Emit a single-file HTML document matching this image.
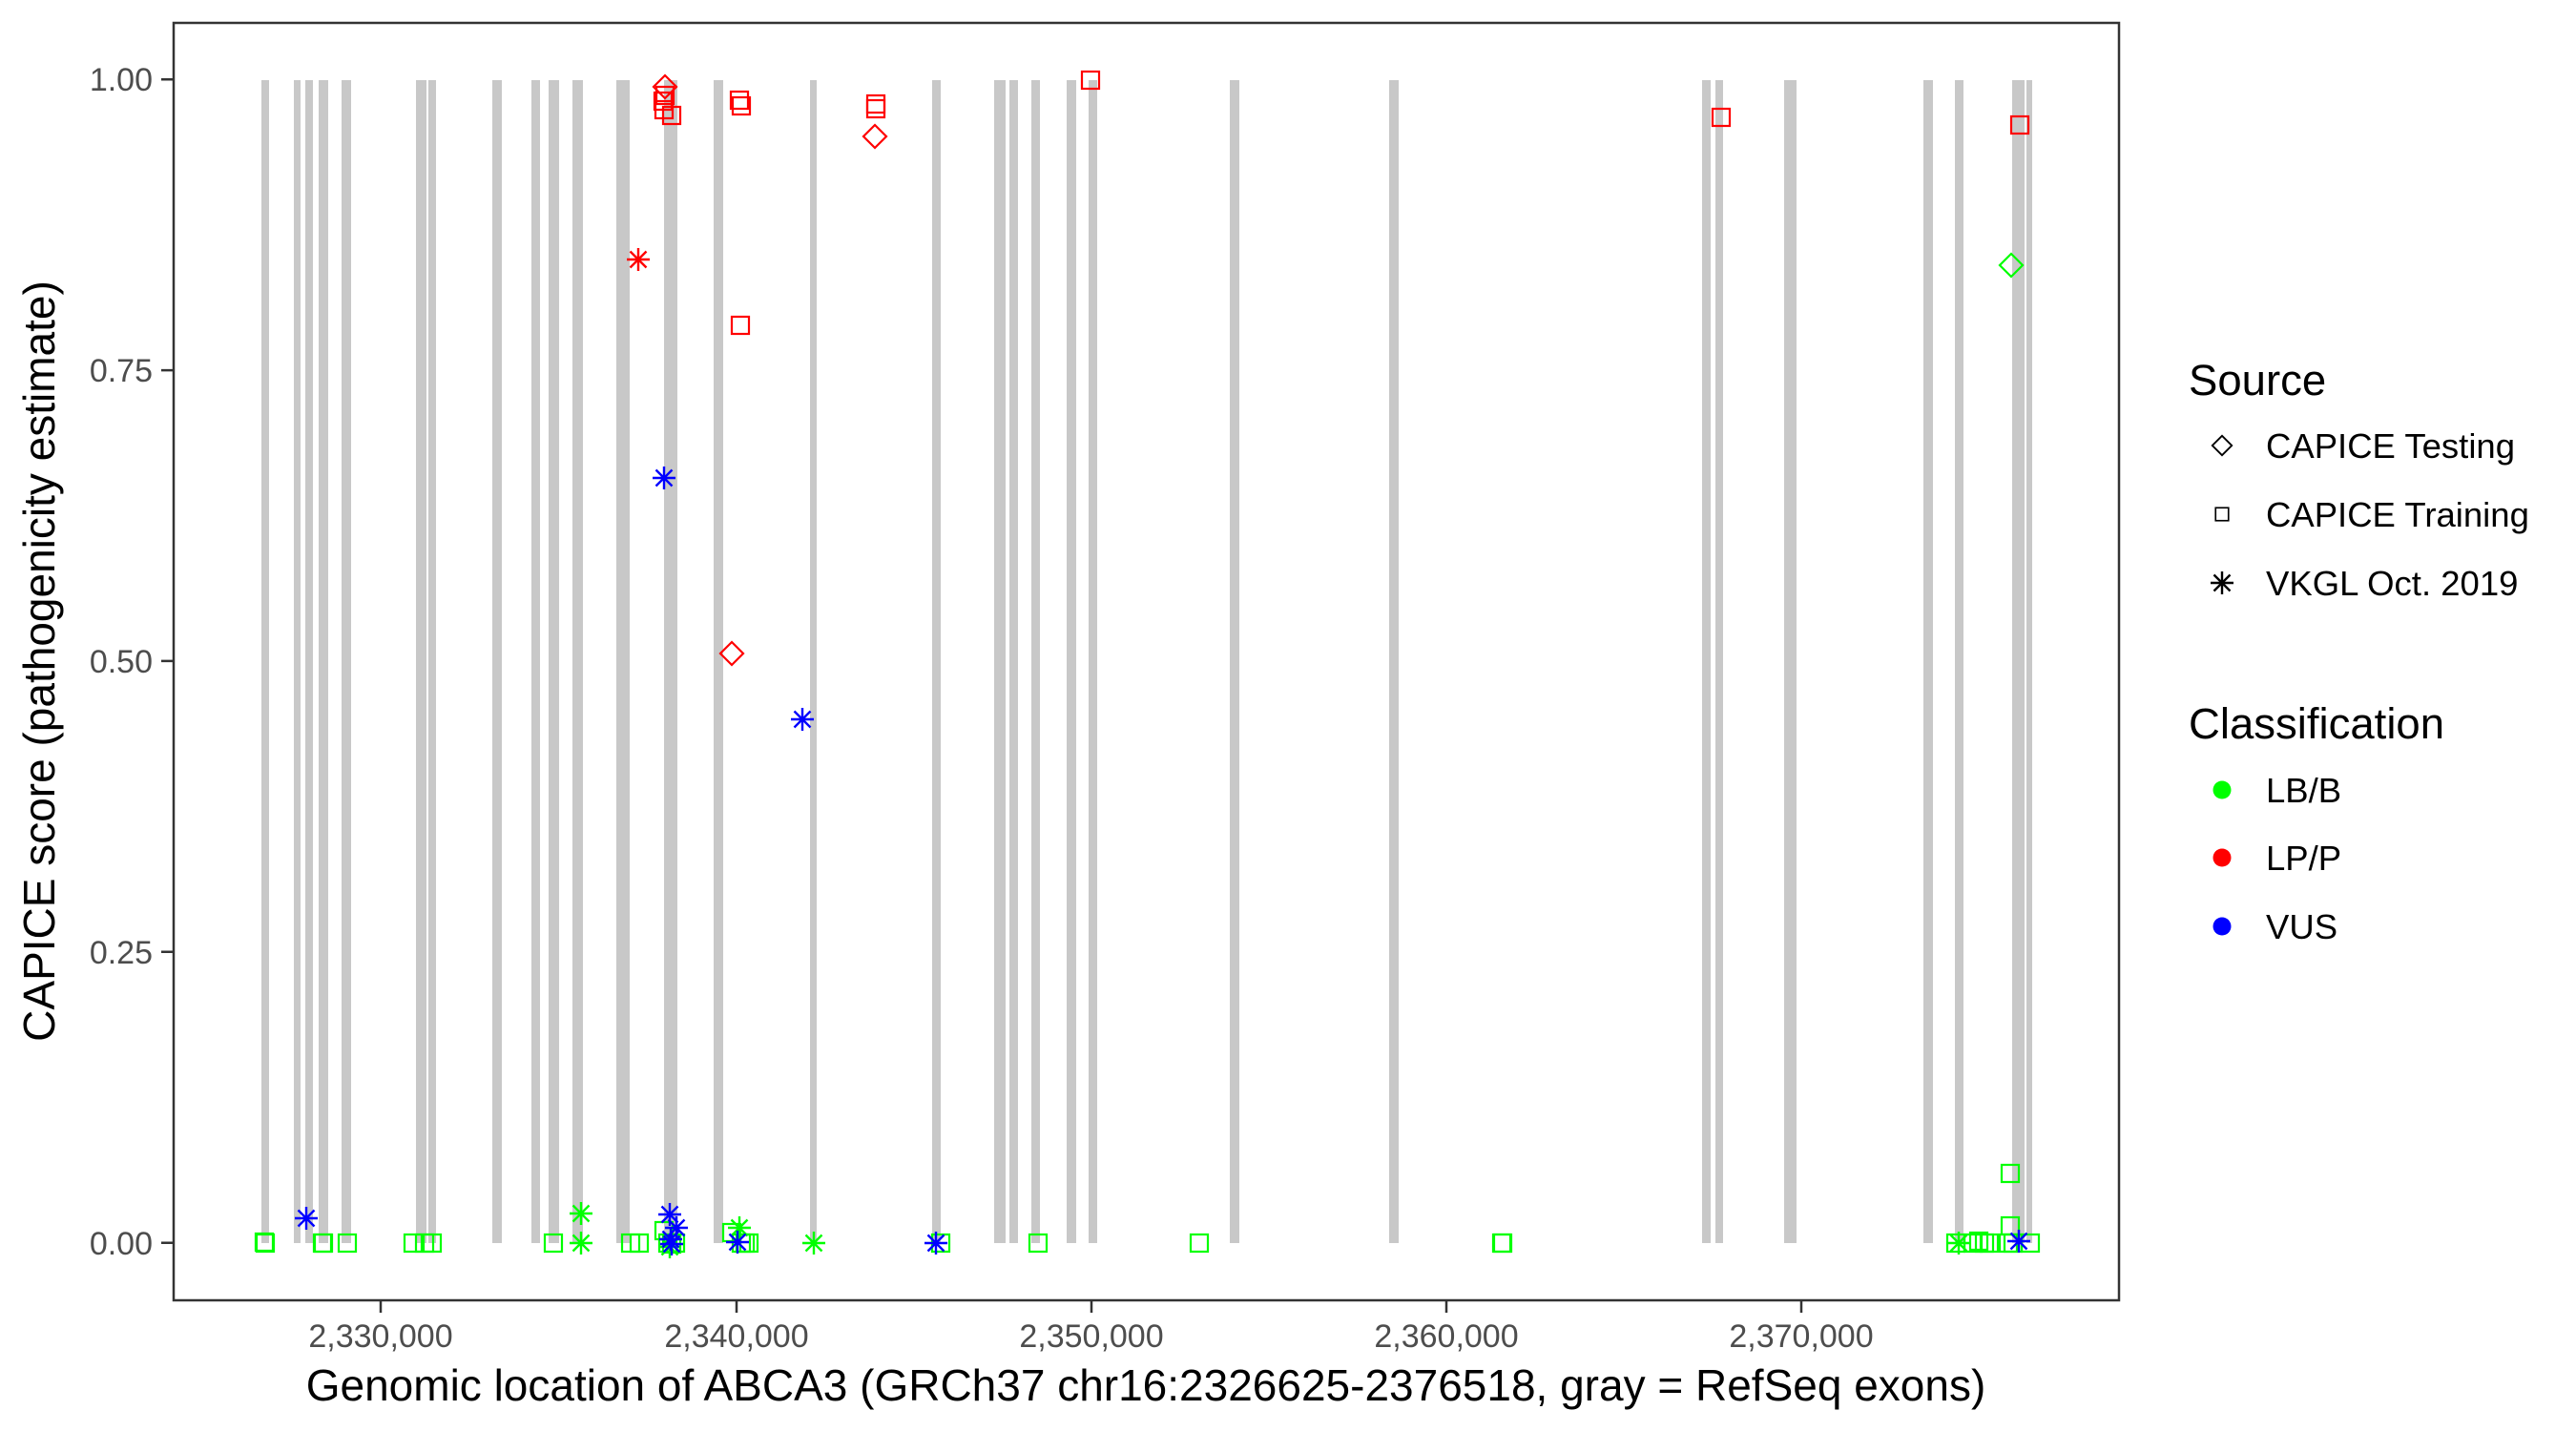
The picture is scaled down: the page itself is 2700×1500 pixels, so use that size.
<!DOCTYPE html>
<html><head><meta charset="utf-8"><style>html,body{margin:0;padding:0;background:#fff}svg{display:block}</style></head>
<body>
<svg width="2700" height="1500" viewBox="0 0 2700 1500" xmlns="http://www.w3.org/2000/svg" font-family="'Liberation Sans', Arial, sans-serif">
<defs>
<g id="sq"><rect x="-9" y="-9" width="18" height="18" fill="none" stroke-width="2.2"/></g>
<g id="dm"><path d="M0,-12 L12,0 L0,12 L-12,0 Z" fill="none" stroke-width="2.2"/></g>
<g id="as" stroke-width="2.4"><path d="M0,-12V12M-12,0H12M-8.5,-8.5L8.5,8.5M-8.5,8.5L8.5,-8.5"/></g>
</defs>
<rect width="2700" height="1500" fill="#fff"/>
<g fill="#c8c8c8">
<rect x="274" y="84" width="8" height="1219"/><rect x="308" y="84" width="7" height="1219"/>
<rect x="320" y="84" width="8" height="1219"/><rect x="334" y="84" width="10" height="1219"/>
<rect x="358" y="84" width="10" height="1219"/><rect x="436" y="84" width="11" height="1219"/>
<rect x="449" y="84" width="8" height="1219"/><rect x="516" y="84" width="10" height="1219"/>
<rect x="557" y="84" width="9" height="1219"/><rect x="575" y="84" width="11" height="1219"/>
<rect x="600" y="84" width="11" height="1219"/><rect x="646" y="84" width="14" height="1219"/>
<rect x="696" y="84" width="14" height="1219"/><rect x="748" y="84" width="10" height="1219"/>
<rect x="849" y="84" width="7" height="1219"/><rect x="977" y="84" width="9" height="1219"/>
<rect x="1042" y="84" width="12" height="1219"/><rect x="1058" y="84" width="9" height="1219"/>
<rect x="1081" y="84" width="9" height="1219"/><rect x="1118" y="84" width="10" height="1219"/>
<rect x="1141" y="84" width="9" height="1219"/><rect x="1289" y="84" width="10" height="1219"/>
<rect x="1456" y="84" width="10" height="1219"/><rect x="1784" y="84" width="9" height="1219"/>
<rect x="1798" y="84" width="8" height="1219"/><rect x="1870" y="84" width="13" height="1219"/>
<rect x="2016" y="84" width="10" height="1219"/><rect x="2049" y="84" width="9" height="1219"/>
<rect x="2109" y="84" width="13" height="1219"/><rect x="2124" y="84" width="6" height="1219"/>
</g>
<g stroke="#00ff00">
<use href="#sq" x="277" y="1302"/><use href="#sq" x="278" y="1303"/><use href="#sq" x="338" y="1303"/><use href="#sq" x="339" y="1303"/>
<use href="#sq" x="364" y="1303"/><use href="#sq" x="433" y="1303"/><use href="#sq" x="445" y="1303"/><use href="#sq" x="453" y="1303"/>
<use href="#sq" x="580" y="1303"/><use href="#as" x="609" y="1272"/><use href="#as" x="609" y="1303"/>
<use href="#sq" x="661" y="1303"/><use href="#sq" x="670" y="1303"/>
<use href="#sq" x="696" y="1290"/><use href="#sq" x="700" y="1303"/><use href="#sq" x="704" y="1304"/><use href="#sq" x="708" y="1303"/><use href="#as" x="702" y="1307"/>
<use href="#sq" x="767" y="1292"/><use href="#as" x="775" y="1287"/><use href="#sq" x="777" y="1303"/><use href="#sq" x="781" y="1303"/><use href="#sq" x="785" y="1303"/>
<use href="#as" x="853" y="1303"/><use href="#sq" x="986" y="1303"/>
<use href="#sq" x="1088" y="1303"/><use href="#sq" x="1257" y="1303"/><use href="#sq" x="1574" y="1303"/><use href="#sq" x="1575" y="1303"/>
<use href="#as" x="2053" y="1303"/><use href="#sq" x="2050" y="1303"/><use href="#sq" x="2068" y="1303"/><use href="#sq" x="2074" y="1301"/>
<use href="#sq" x="2080" y="1303"/><use href="#sq" x="2085" y="1303"/><use href="#sq" x="2107" y="1230"/><use href="#sq" x="2107" y="1285"/>
<use href="#sq" x="2105" y="1303"/><use href="#sq" x="2110" y="1303"/><use href="#sq" x="2128" y="1303"/>
<use href="#dm" x="2108" y="278"/>
</g>
<g stroke="#ff0000">
<use href="#dm" x="697" y="91"/><use href="#sq" x="697" y="100"/><use href="#sq" x="695" y="106"/><use href="#sq" x="696" y="115"/><use href="#sq" x="704" y="121"/>
<use href="#sq" x="775" y="105"/><use href="#sq" x="777" y="111"/><use href="#sq" x="918" y="109"/><use href="#sq" x="918" y="114"/>
<use href="#dm" x="917" y="143"/><use href="#sq" x="1143" y="84"/><use href="#as" x="669" y="272"/><use href="#sq" x="776" y="341"/>
<use href="#dm" x="767" y="685"/><use href="#sq" x="1804" y="123"/><use href="#sq" x="2117" y="131"/>
</g>
<g stroke="#0000ff">
<use href="#as" x="696" y="501"/><use href="#as" x="841" y="754"/><use href="#as" x="321" y="1277"/>
<use href="#as" x="702" y="1273"/><use href="#as" x="709" y="1287"/><use href="#as" x="703" y="1299"/><use href="#as" x="704" y="1304"/>
<use href="#as" x="773" y="1302"/><use href="#as" x="981" y="1303"/><use href="#as" x="2116" y="1301"/>
</g>
<rect x="182" y="24" width="2039" height="1339" fill="none" stroke="#333" stroke-width="2.5"/>
<g stroke="#333" stroke-width="2.5">
<path d="M169,83.3H182M169,388.1H182M169,692.9H182M169,997.8H182M169,1302.7H182"/>
<path d="M399,1363V1376M772,1363V1376M1144,1363V1376M1516,1363V1376M1888,1363V1376"/>
</g>
<g fill="#4d4d4d" font-size="34" text-anchor="end">
<text x="160" y="95">1.00</text><text x="160" y="400">0.75</text><text x="160" y="705">0.50</text><text x="160" y="1010">0.25</text><text x="160" y="1315">0.00</text>
</g>
<g fill="#4d4d4d" font-size="34" text-anchor="middle">
<text x="399" y="1412">2,330,000</text><text x="772" y="1412">2,340,000</text><text x="1144" y="1412">2,350,000</text><text x="1516" y="1412">2,360,000</text><text x="1888" y="1412">2,370,000</text>
</g>
<text x="1201" y="1468" font-size="46" text-anchor="middle" fill="#000">Genomic location of ABCA3 (GRCh37 chr16:2326625-2376518, gray = RefSeq exons)</text>
<text transform="translate(57,693) rotate(-90)" font-size="46" text-anchor="middle" fill="#000">CAPICE score (pathogenicity estimate)</text>
<text x="2294" y="414" font-size="45.5" fill="#000">Source</text>
<g stroke="#000"><use href="#dm" x="2329" y="467" transform="translate(2329,467) scale(0.85) translate(-2329,-467)"/><use href="#sq" x="2329" y="539" transform="translate(2329,539) scale(0.75) translate(-2329,-539)"/><use href="#as" x="2329" y="611"/></g>
<g font-size="36.5" fill="#000"><text x="2375" y="480">CAPICE Testing</text><text x="2375" y="552">CAPICE Training</text><text x="2375" y="624">VKGL Oct. 2019</text></g>
<text x="2294" y="774" font-size="45.5" fill="#000">Classification</text>
<circle cx="2329" cy="828" r="9.5" fill="#00ff00"/><circle cx="2329" cy="899" r="9.5" fill="#ff0000"/><circle cx="2329" cy="971" r="9.5" fill="#0000ff"/>
<g font-size="36.5" fill="#000"><text x="2375" y="841">LB/B</text><text x="2375" y="912">LP/P</text><text x="2375" y="984">VUS</text></g>
</svg>
</body></html>
